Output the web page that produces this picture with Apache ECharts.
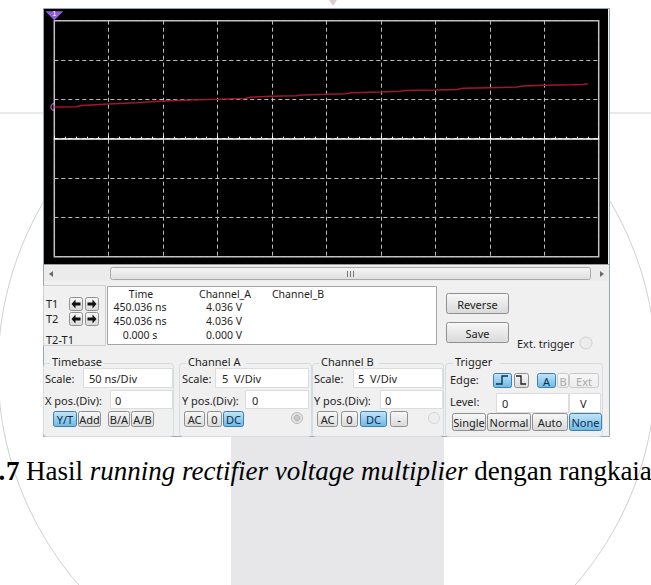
<!DOCTYPE html>
<html><head><meta charset="utf-8">
<script src="https://cdn.jsdelivr.net/npm/echarts@6/dist/echarts.min.js"></script>
<style>html,body{margin:0;padding:0;background:#fff;}#c{width:651px;height:585px;}</style>
</head><body><div id="c"></div>
<script>
// ---- data ----
const timeNs   = [450.036, 470, 475, 500, 525, 550, 575, 600, 625, 630, 650, 672, 677, 700, 718, 723, 750, 768, 772, 800, 820, 825, 850, 875, 880, 900, 925, 935, 940];
const channelA = [4.036, 4.07, 4.22, 4.40, 4.58, 4.79, 4.92, 5.01, 5.12, 5.28, 5.39, 5.45, 5.56, 5.64, 5.72, 5.85, 5.94, 6.02, 6.14, 6.19, 6.26, 6.40, 6.48, 6.56, 6.70, 6.79, 6.85, 6.90, 6.97];
const timeMin = 450, timeMax = 950, timeDiv = 50;
const voltMin = -15, voltMax = 15, voltDiv = 5;
const cursorT1 = 450.036;
const readHeaders = ['Time', 'Channel_A', 'Channel_B'];
const readTime = ['450.036 ns', '450.036 ns', '0.000 s'];
const readChA = ['4.036 V', '4.036 V', '0.000 V'];
const cursorLabels = ['T1', 'T2', 'T2-T1'];
const captionDot = '.';
const captionNum = '7';
const captionA = 'Hasil';
const captionItalic = 'running rectifier voltage multiplier';
const captionB = 'dengan rangkaia';

// ---- drawing helpers for the instrument chrome ----
const G = [];
const UI = '"Noto Sans", sans-serif';
function grad(a, b) { return new echarts.graphic.LinearGradient(0, 0, 0, 1, [{offset: 0, color: a}, {offset: 1, color: b}]); }
function R(x, y, w, h, fill, stroke, r, z, lw) {
  G.push({type: 'rect', silent: true, z: z || 2, shape: {x: x, y: y, width: w, height: h, r: r || 0},
    style: {fill: fill || 'none', stroke: stroke || 'none', lineWidth: lw || 1}});
}
function T(x, y, s, o) {
  o = o || {};
  const st = {text: s, font: (o.weight || 'normal') + ' ' + (o.size || 11) + 'px ' + UI, fill: o.color || '#1e1e1e',
      textAlign: o.align || 'left', textVerticalAlign: 'middle'};
  if (o.lh) st.lineHeight = o.lh;
  G.push({type: 'text', silent: true, z: o.z || 5, x: x, y: y, style: st});
}
function C(cx, cy, r, fill, stroke, z, lw) {
  G.push({type: 'circle', silent: true, z: z || 3, shape: {cx: cx, cy: cy, r: r}, style: {fill: fill, stroke: stroke, lineWidth: lw || 1}});
}
function P(points, fill, z) { G.push({type: 'polygon', silent: true, z: z || 5, shape: {points: points}, style: {fill: fill}}); }
function PL(points, stroke, z, lw) { G.push({type: 'polyline', silent: true, z: z || 5, shape: {points: points}, style: {stroke: stroke, fill: 'none', lineWidth: lw || 1}}); }
function L(x1, y1, x2, y2, stroke, z, lw) { G.push({type: 'line', silent: true, z: z || 1, shape: {x1: x1, y1: y1, x2: x2, y2: y2}, style: {stroke: stroke, lineWidth: lw || 1}}); }
function button(x, y, w, h, label, state) {
  const fill = state === 's' ? grad('#c4e5f8', '#6db8e4') : state === 'd' ? grad('#f7f7f7', '#ececec') : grad('#f8f8f8', '#d9d9d9');
  const stroke = state === 's' ? '#3c7fb1' : state === 'd' ? '#c9c9c9' : '#8e8f8f';
  R(x + 0.5, y + 0.5, w, h, fill, stroke, 2, 4);
  if (label) T(x + w / 2 + 0.5, y + h / 2 + 1, label, {align: 'center', color: state === 'd' ? '#a9a9a9' : state === 's' ? '#0b2f55' : '#222'});
}
function input(x, y, w, h, s, tx) {
  R(x + 0.5, y + 0.5, w, h, '#fff', '#dcdcdc', 0, 4);
  if (s) T(tx, y + h / 2 + 1, s);
}
function group(x, y, w, h, label, lx) {
  R(x + 0.5, y + 0.5, w, h, 'none', '#d3dce3', 3, 3);
  R(lx - 2, y - 6, label.length * 6.2 + 4, 12, '#f0f0f0', 'none', 0, 4);
  T(lx, y - 2, label);
}
// d = -1 : arrow pointing left, d = 1 : pointing right
function arrowBtn(x, y, d) {
  R(x + 0.5, y + 0.5, 13, 13, grad('#f8f8f8', '#d9d9d9'), '#8e8f8f', 2, 4);
  const cx = x + 7, cy = y + 7;
  P([[cx + 4.5 * d, cy], [cx + 0.5 * d, cy - 4.5], [cx + 0.5 * d, cy - 1.6], [cx - 4.5 * d, cy - 1.6], [cx - 4.5 * d, cy + 1.6], [cx + 0.5 * d, cy + 1.6], [cx + 0.5 * d, cy + 4.5]], '#111', 5);
}

// ---- watermark of the page ----
R(231, 437, 213, 148, '#e7e7ea', 'none', 0, 0);
C(340, 380, 104, '#fff', '#cdcdcd', 1, 1);
C(327, 369, 329, 'none', '#d0d0d0', 1, 1);
L(0, 113, 44, 113, '#d3d3d3', 1, 1);
L(609, 113, 651, 113, '#d3d3d3', 1, 1);
P([[329, 0], [337, 0], [333, 6]], '#d8ccd0', 1);

// ---- instrument window ----
R(43.5, 8.5, 566, 428, '#f0f0f0', '#98a4ae', 0, 1);
R(44, 9, 564, 255, '#000', 'none', 0, 1);
L(44, 264.5, 609, 264.5, '#9a9a9a', 2, 1);
// scrollbar
R(44, 266, 565, 15, '#ebebeb', 'none', 0, 2);
P([[49, 274], [53, 271], [53, 277]], '#6a6a6a', 5);
P([[604, 274], [600, 271], [600, 277]], '#6a6a6a', 5);
R(110.5, 267.5, 480, 12, grad('#f6f6f6', '#dedede'), '#a9a9a9', 2, 3);
L(347.5, 271, 347.5, 277, '#777', 5, 1); L(350.5, 271, 350.5, 277, '#777', 5, 1); L(353.5, 271, 353.5, 277, '#777', 5, 1);

// cursor readout
R(43.5, 285.5, 62, 60, '#f0f0f0', '#d0d0d0', 0, 3);
T(46, 303, cursorLabels[0]); T(46, 318.5, cursorLabels[1]); T(46, 339, cursorLabels[2]);
arrowBtn(69, 297, -1); arrowBtn(85, 297, 1);
arrowBtn(69, 312, -1); arrowBtn(85, 312, 1);
R(107.5, 286.5, 329, 58, '#fff', '#a5a5a5', 0, 3);
T(141, 293.5, readHeaders[0], {align: 'center', size: 10.5, lh: 11});
T(225, 293.5, readHeaders[1], {align: 'center', size: 10.5, lh: 11});
T(298, 293.5, readHeaders[2], {align: 'center', size: 10.5, lh: 11});
[307.3, 321.1, 334.9].forEach(function (yy, i) {
  T(140, yy, readTime[i], {align: 'center', size: 10.5, lh: 11});
  T(224, yy, readChA[i], {align: 'center', size: 10.5, lh: 11});
});
button(446, 293, 62, 20, 'Reverse', 'n');
button(446, 322, 62, 20, 'Save', 'n');
T(517, 343, 'Ext. trigger');
C(586, 343, 6, '#ececec', '#d2d2d2', 3);

// Timebase
group(43, 363, 130, 73, 'Timebase', 52);
T(45, 378, 'Scale:'); input(83, 368, 89, 19, '50 ns/Div', 89);
T(45, 400, 'X pos.(Div):'); input(110, 390, 62, 18, '0', 115);
button(53, 411, 23, 15, 'Y/T', 's'); button(78, 411, 22, 15, 'Add', 'n');
button(108, 411, 21, 15, 'B/A', 'n'); button(131, 411, 22, 15, 'A/B', 'n');
// Channel A
group(179, 363, 132, 73, 'Channel A', 188);
T(182, 378, 'Scale:'); input(215, 368, 93, 19, '5  V/Div', 222);
T(182, 400, 'Y pos.(Div):'); input(245, 390, 63, 18, '0', 252);
button(184, 411, 20, 15, 'AC', 'n'); button(207, 411, 14, 15, '0', 'n'); button(223, 411, 20, 15, 'DC', 's');
C(297, 418, 5.5, '#e4e4e4', '#b9b9b9', 3); C(297, 418, 2.8, '#c9c9c9', '#b0b0b0', 4);
// Channel B
group(312, 363, 131, 73, 'Channel B', 321);
T(314, 378, 'Scale:'); input(353, 368, 89, 19, '5  V/Div', 358);
T(314, 400, 'Y pos.(Div):'); input(380, 390, 62, 18, '0', 385);
button(317, 411, 20, 15, 'AC', 'n'); button(341, 411, 16, 15, '0', 'n'); button(360, 411, 26, 15, 'DC', 's'); button(390, 411, 17, 15, '-', 'n');
C(434, 418, 5.5, '#eeeeee', '#d5d5d5', 3);
// Trigger
group(445, 363, 157, 73, 'Trigger', 455);
T(450, 379, 'Edge:');
button(493, 373, 18, 14, '', 's');
PL([[496, 384], [502, 384], [502, 376], [508, 376]], '#0b2f55', 6, 1.4);
button(514, 373, 14, 14, '', 'n');
PL([[516, 376], [521, 376], [521, 384], [526, 384]], '#222', 6, 1.4);
button(537, 373, 18, 14, 'A', 's'); button(557, 373, 11, 14, 'B', 'd'); button(569, 373, 29, 14, 'Ext', 'd');
T(450, 401, 'Level:');
input(496, 393, 72, 19, '0', 502);
input(569, 393, 31, 19, 'V', 580);
button(452, 413, 33, 17, 'Single', 'n'); button(487, 413, 43, 17, 'Normal', 'n');
button(532, 413, 35, 17, 'Auto', 'n'); button(569, 413, 32, 17, 'None', 's');

// caption
const capFont = '27px "Liberation Serif", serif';
G.push({type: 'text', silent: true, z: 3, x: -1.5, y: 471,
  style: {text: captionDot, font: 'bold ' + capFont, fill: '#000', textVerticalAlign: 'middle'}});
G.push({type: 'text', silent: true, z: 3, x: 6, y: 471,
  style: {text: captionNum, font: 'bold ' + capFont, fill: '#000', textVerticalAlign: 'middle'}});
G.push({type: 'text', silent: true, z: 3, x: 26, y: 471,
  style: {text: captionA + ' {i|' + captionItalic + '} ' + captionB,
    font: capFont, fill: '#000', textVerticalAlign: 'middle',
    rich: {i: {fontStyle: 'italic', fontFamily: 'Liberation Serif', fontSize: 27, fill: '#000'}}}});

const chart = echarts.init(document.getElementById('c'), null, {renderer: 'svg'});
chart.setOption({
  animation: false,
  backgroundColor: '#fff',
  grid: {left: 54.3, top: 20.7, width: 544.4, height: 236, show: true, backgroundColor: '#000', borderColor: '#c4c4c4', borderWidth: 1.5, z: 10},
  xAxis: {type: 'value', min: timeMin, max: timeMax, interval: timeDiv, z: 11,
    axisLabel: {show: false},
    axisLine: {show: true, onZero: true, lineStyle: {color: '#ffffff', width: 1.5}},
    axisTick: {show: true, inside: true, length: 3, lineStyle: {color: '#ffffff'}},
    minorTick: {show: true, splitNumber: 5, length: 2, lineStyle: {color: '#ffffff'}},
    splitLine: {show: true, lineStyle: {color: '#bdbdbd', type: [4, 3], width: 1}}},
  yAxis: {type: 'value', min: voltMin, max: voltMax, interval: voltDiv, z: 11,
    axisLabel: {show: false}, axisLine: {show: false}, axisTick: {show: false},
    splitLine: {show: true, lineStyle: {color: '#bdbdbd', type: [4, 3], width: 1}}},
  series: [{
    name: 'Channel_A', type: 'line', z: 12, showSymbol: false, silent: true,
    data: timeNs.map(function (t, i) { return [t, channelA[i]]; }),
    lineStyle: {color: '#a3172e', width: 1.5},
    markLine: {silent: true, symbol: 'none', label: {show: false}, animation: false,
      lineStyle: {color: '#3cb44b', type: 'solid', width: 1.5}, data: [{xAxis: cursorT1}]},
    markPoint: {silent: true, animation: false, data: [
      {coord: [cursorT1, voltMax], symbol: 'triangle', symbolRotate: 180, symbolSize: [18, 9], symbolOffset: [0, -5],
        itemStyle: {color: '#9160d8'}, label: {show: true, formatter: '1', color: '#fff', fontSize: 7, offset: [0, -2]}},
      {coord: [timeNs[0], channelA[0]], symbol: 'circle', symbolSize: 7,
        itemStyle: {color: 'rgba(0,0,0,0)', borderColor: '#c24fc2', borderWidth: 1.2}, label: {show: false}}
    ]}
  }],
  graphic: G
});
</script></body></html>
